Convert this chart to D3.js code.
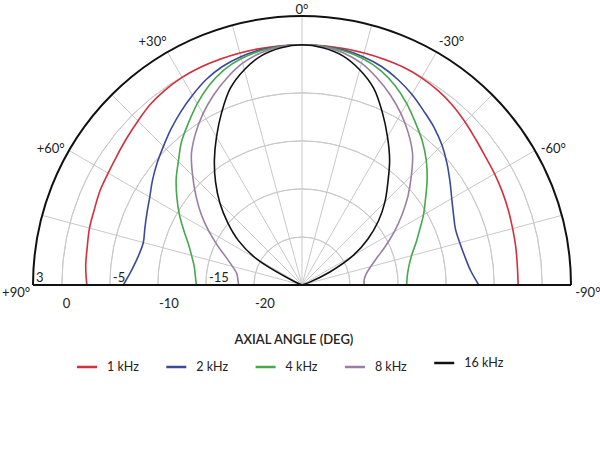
<!DOCTYPE html>
<html>
<head>
<meta charset="utf-8">
<script src="https://cdn.jsdelivr.net/npm/d3@7"></script>
<style>
  body { margin: 0; background: #fff; }
  svg { display: block; font-family: Lato, "Open Sans", sans-serif; }
</style>
</head>
<body>
<div id="chart"></div>
<script>
// angles in degrees, + is left side (as in the chart), from +90 down to -90
const angles = [90, 85, 80, 75, 70, 65, 60, 55, 50, 45, 40, 35, 30, 25, 20, 15, 10, 5, 0,
  -5, -10, -15, -20, -25, -30, -35, -40, -45, -50, -55, -60, -65, -70, -75, -80, -85, -90];

// level in dB for each angle above
const khz1 = [-2.6, -2.4, -2.3, -2.1, -2.0, -1.8, -1.7, -1.5, -1.2, -0.85, -0.45, -0.2, -0.05, 0, 0, 0, 0, 0, 0,
  0, 0, 0, 0, 0, -0.1, -0.3, -0.6, -1.0, -1.4, -1.7, -1.85, -2.0, -2.15, -2.3, -2.4, -2.5, -2.5];
const khz2 = [-6.4, -7.2, -7.7, -7.9, -7.6, -7.2, -6.7, -6.0, -5.3, -4.6, -3.8, -3.0, -2.2, -1.4, -0.8, -0.4, -0.15, -0.05, 0,
  -0.05, -0.15, -0.4, -0.8, -1.4, -2.1, -2.9, -3.6, -4.4, -5.3, -6.2, -7.0, -7.6, -8.0, -8.0, -7.8, -7.4, -6.6];
const khz4 = [-14.0, -13.85, -13.6, -13.1, -12.4, -11.4, -10.25, -9.1, -7.9, -6.8, -5.5, -4.4, -3.2, -2.1, -1.2, -0.6, -0.25, -0.05, 0,
  -0.05, -0.25, -0.6, -1.2, -2.1, -3.2, -4.4, -5.5, -6.7, -8.0, -9.3, -10.4, -11.5, -12.4, -13.2, -13.7, -14.0, -14.1];
const khz8 = [-18.4, -18.3, -18.1, -17.5, -16.6, -15.3, -13.8, -12.2, -10.6, -8.9, -7.1, -5.7, -4.4, -3.2, -2.1, -1.1, -0.45, -0.1, 0,
  -0.1, -0.45, -1.1, -2.1, -3.2, -4.4, -5.7, -7.1, -8.9, -10.6, -12.3, -13.9, -15.4, -16.7, -17.6, -18.2, -18.5, -18.5];
const khz16 = [-25, -25, -25, -25, -25, -24.0, -19.5, -16.9, -14.9, -12.9, -11.0, -9.1, -7.2, -5.2, -3.2, -1.8, -0.75, -0.2, 0,
  -0.2, -0.75, -1.8, -3.2, -5.2, -7.2, -9.1, -11.1, -12.8, -14.6, -16.6, -18.8, -21.8, -24.2, -25, -25, -25, -25];

const seriesNames = ['1 kHz', '2 kHz', '4 kHz', '8 kHz', '16 kHz'];
const seriesValues = [khz1, khz2, khz4, khz8, khz16];
const seriesColors = ['#d3303c', '#3b4a98', '#45a84b', '#9a7ea4', '#111111'];

const ringLevels = [-20, -15, -10, -5, 0];
const spokeAngles = [75, 60, 45, 30, 15, 0, -15, -30, -45, -60, -75];
const angleLabels = [90, 60, 30, 0, -30, -60, -90];
const levelLabelsInside = [3, -5, -15];
const levelLabelsBelow = [0, -10, -20];

const width = 600, height = 460;
const cx = 302, cy = 285;
const rMax = 269;

const svg = d3.select('#chart').append('svg')
  .attr('width', width)
  .attr('height', height);

const r = d3.scaleLinear().domain([-25, 3]).range([0, rMax]).clamp(true);
// chart angle (deg, + = left) -> radians for d3 radial (0 = up, clockwise)
const a = d3.scaleLinear().domain([-90, 90]).range([Math.PI / 2, -Math.PI / 2]);

const g = svg.append('g').attr('transform', `translate(${cx},${cy})`);

// grid rings
const halfArc = d3.arc().startAngle(-Math.PI / 2).endAngle(Math.PI / 2);
g.selectAll('path.ring')
  .data(ringLevels)
  .enter().append('path')
  .attr('class', 'ring')
  .attr('d', d => halfArc({ innerRadius: r(d), outerRadius: r(d) }))
  .attr('fill', 'none')
  .attr('stroke', '#c9c9c9')
  .attr('stroke-width', 1);

// spokes
g.selectAll('line.spoke')
  .data(spokeAngles)
  .enter().append('line')
  .attr('class', 'spoke')
  .attr('x1', 0).attr('y1', 0)
  .attr('x2', d => rMax * Math.sin(a(d)))
  .attr('y2', d => -rMax * Math.cos(a(d)))
  .attr('stroke', '#c9c9c9')
  .attr('stroke-width', 1);

// curves
const line = d3.lineRadial()
  .angle(d => a(d[0]))
  .radius(d => r(d[1]))
  .curve(d3.curveCatmullRom.alpha(0.5));

seriesValues.forEach((vals, i) => {
  g.append('path')
    .datum(angles.map((ang, j) => [ang, vals[j]]))
    .attr('d', line)
    .attr('fill', 'none')
    .attr('stroke', seriesColors[i])
    .attr('stroke-width', 1.6);
});

// outer frame
g.append('path')
  .attr('d', halfArc({ innerRadius: rMax, outerRadius: rMax }))
  .attr('fill', 'none')
  .attr('stroke', '#111')
  .attr('stroke-width', 2);
g.append('line')
  .attr('x1', -rMax).attr('x2', rMax)
  .attr('y1', 0).attr('y2', 0)
  .attr('stroke', '#111')
  .attr('stroke-width', 2);

// angle labels
g.selectAll('text.ang')
  .data(angleLabels)
  .enter().append('text')
  .attr('class', 'ang')
  .attr('x', d => {
    const t = a(d + Math.sign(d) * 1.5);
    return (d === 0 ? 276 : 286) * Math.sin(t);
  })
  .attr('y', d => {
    const t = a(d + Math.sign(d) * 1.5);
    return -(d === 0 ? 276 : 286) * Math.cos(t);
  })
  .attr('dy', '0.35em')
  .attr('text-anchor', 'middle')
  .attr('font-size', 13)
  .attr('fill', '#222')
  .text(d => (d > 0 ? '+' : '') + d + '\u00b0');

// level labels
g.selectAll('text.lvlIn')
  .data(levelLabelsInside)
  .enter().append('text')
  .attr('class', 'lvlIn')
  .attr('x', d => -r(d) + 3)
  .attr('y', -3)
  .attr('font-size', 13)
  .attr('fill', '#222')
  .text(d => d);

g.selectAll('text.lvlOut')
  .data(levelLabelsBelow)
  .enter().append('text')
  .attr('class', 'lvlOut')
  .attr('x', d => -r(d) + 1)
  .attr('y', 23)
  .attr('font-size', 13)
  .attr('fill', '#222')
  .text(d => d);

// axis title
svg.append('text')
  .attr('x', 294)
  .attr('y', 344)
  .attr('text-anchor', 'middle')
  .attr('font-size', 13)
  .attr('font-weight', 600)
  .attr('fill', '#222')
  .text('AXIAL ANGLE (DEG)');

// legend
const legend = svg.append('g').attr('transform', 'translate(77,367)');
seriesNames.forEach((name, i) => {
  const item = legend.append('g')
    .attr('transform', `translate(${i * 89.3},${i === 4 ? -4 : 0})`);
  item.append('line')
    .attr('x1', 0).attr('x2', 20)
    .attr('y1', 0).attr('y2', 0)
    .attr('stroke', seriesColors[i])
    .attr('stroke-width', 2.5);
  item.append('text')
    .attr('x', 30)
    .attr('y', 0)
    .attr('dy', '0.35em')
    .attr('font-size', 12.5)
    .attr('fill', '#222')
    .text(name);
});
</script>
</body>
</html>
